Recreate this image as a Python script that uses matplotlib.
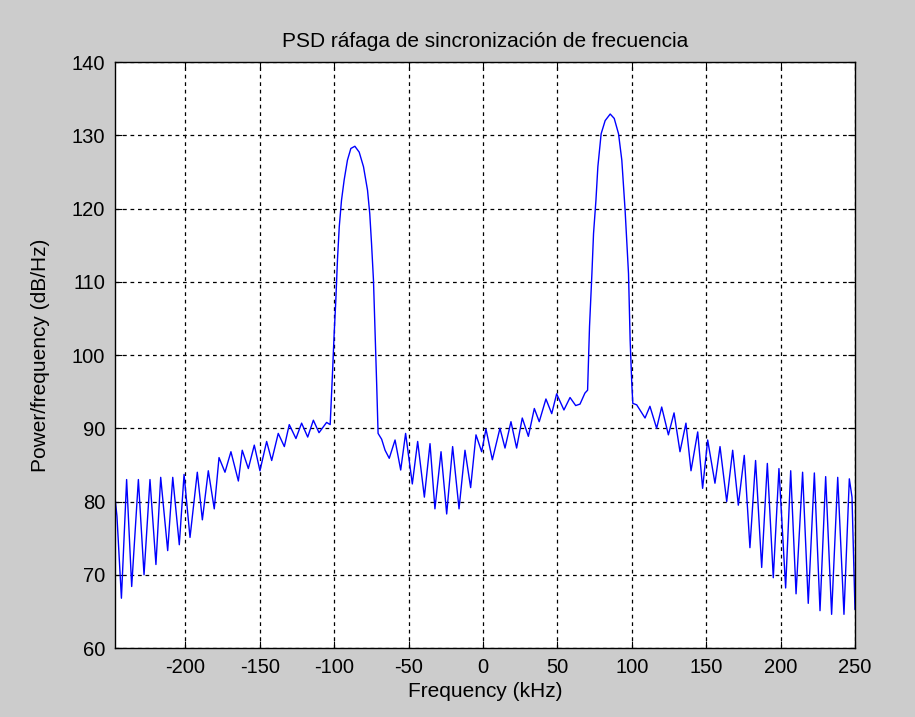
import matplotlib as mpl
import numpy as np

mpl.use('Agg')
from matplotlib import pyplot as plt

# frequency (kHz) and PSD (dB/Hz), read at the local extrema of the trace
freq_khz = [
    -248.5, -246.0, -243.0, -239.5, -236.1, -231.6, -227.8, -223.8, -219.8,
    -216.6, -211.9, -208.5, -204.1, -200.9, -196.9, -192.0, -188.6, -184.6,
    -180.6, -177.4, -173.4, -169.4, -164.4, -161.8, -157.7, -153.7, -149.9,
    -145.4, -142.0, -137.6, -133.5, -130.2, -125.7, -121.9, -117.8, -114.0,
    -110.2, -105.1, -102.7,
    -101.1, -100.0, -98.9, -97.8, -96.6, -95.1, -93.3, -91.1, -88.8, -86.1,
    -83.2, -80.3, -77.6, -76.1, -74.9, -73.6, -72.7, -71.4, -70.5,
    -68.1, -65.8, -63.0, -59.1, -55.3, -52.0, -47.5, -43.9, -39.4, -35.6,
    -32.3, -28.2, -24.4, -20.4, -16.1, -12.1, -8.3, -4.7, -0.9, 2.0,
    6.3, 11.4, 14.8, 18.8, 22.6, 26.4, 30.5, 34.5, 37.8, 42.3, 46.2, 49.5,
    54.4, 58.5, 62.3, 65.2, 68.5, 70.3,
    71.6, 73.2, 74.3, 75.9, 77.2, 79.4, 82.1, 85.5, 88.2, 91.1, 93.3, 95.5,
    97.8, 98.9, 100.0, 100.7,
    103.3, 108.9, 112.2, 116.7, 120.1, 124.6, 128.4, 132.4, 136.4, 139.8,
    144.3, 147.6, 151.0, 155.9, 159.3, 163.8, 167.8, 171.6, 175.6, 179.4,
    183.2, 187.3, 191.1, 195.1, 198.9, 203.4, 206.8, 210.4, 214.8, 218.6,
    222.7, 226.5, 230.3, 234.3, 238.4, 242.6, 246.2, 248.0, 250.0,
]
psd_db = [
    82.9, 78.0, 66.8, 83.0, 68.4, 83.0, 70.0, 83.0, 71.4,
    83.3, 73.3, 83.3, 74.1, 83.7, 75.1, 84.0, 77.5, 84.2,
    79.0, 86.0, 84.0, 86.8, 82.8, 87.0, 84.5, 87.7, 84.2,
    88.2, 85.6, 89.3, 87.5, 90.5, 88.6, 90.7, 88.8, 91.1,
    89.4, 90.8, 90.5,
    97.7, 103.0, 107.5, 113.0, 117.5, 121.1, 123.9, 126.6, 128.2, 128.5,
    127.7, 125.7, 122.5, 119.3, 115.2, 110.2, 104.3, 95.7, 89.3,
    88.5, 87.0, 85.9, 88.4, 84.3, 89.3, 82.4, 88.2, 80.6, 87.9,
    79.0, 86.8, 78.3, 87.5, 79.0, 87.0, 81.9, 89.1, 86.8, 89.9,
    85.7, 90.0, 87.3, 90.9, 87.3, 91.4, 88.9, 92.7, 90.9, 94.0, 92.0, 94.7,
    92.5, 94.2, 93.1, 93.3, 94.8, 95.2,
    103.9, 111.1, 116.6, 121.1, 125.7, 130.2, 132.0, 132.9, 132.3, 130.2,
    126.6, 119.8, 111.1, 102.0, 96.1, 93.4,
    93.2, 91.4, 93.0, 90.0, 92.9, 89.1, 92.1, 86.8, 90.7, 84.2,
    89.5, 81.8, 88.4, 82.5, 87.5, 80.0, 87.0, 79.5, 86.3, 73.7,
    85.6, 71.0, 85.2, 69.6, 84.5, 68.2, 84.2, 67.4, 84.0, 66.1,
    83.9, 65.1, 83.4, 64.6, 83.3, 64.6, 83.1, 80.6, 65.3,
]

x_ticks = [-200, -150, -100, -50, 0, 50, 100, 150, 200, 250]
y_ticks = [60, 70, 80, 90, 100, 110, 120, 130, 140]

plt.rcParams['font.family'] = ['Liberation Sans', 'DejaVu Sans']
plt.rcParams['axes.unicode_minus'] = False

fig = plt.figure(figsize=(9.15, 7.17), dpi=100, facecolor='#cccccc')
ax = fig.add_axes([0.1257, 0.0962, 0.8087, 0.8173])

ax.plot(freq_khz, psd_db, color='#0000ff', lw=1.0)

ax.set_xlim(-247.3, 250)
ax.set_ylim(60, 140)
ax.set_xticks(x_ticks)
ax.set_yticks(y_ticks)
ax.grid(True, color='black', linestyle=(0, (3, 3)), lw=0.9)
ax.tick_params(direction='in', top=True, right=True, labelsize=14.5,
               length=5, pad=7)
for s in ax.spines.values():
    s.set_linewidth(1.0)

ax.set_title('PSD ráfaga de sincronización de frecuencia', fontsize=15, pad=11)
ax.set_xlabel('Frequency (kHz)', fontsize=15, labelpad=4)
ax.set_ylabel('Power/frequency (dB/Hz)', fontsize=15, labelpad=16)

fig.savefig('out.png', dpi=100, facecolor=fig.get_facecolor())
